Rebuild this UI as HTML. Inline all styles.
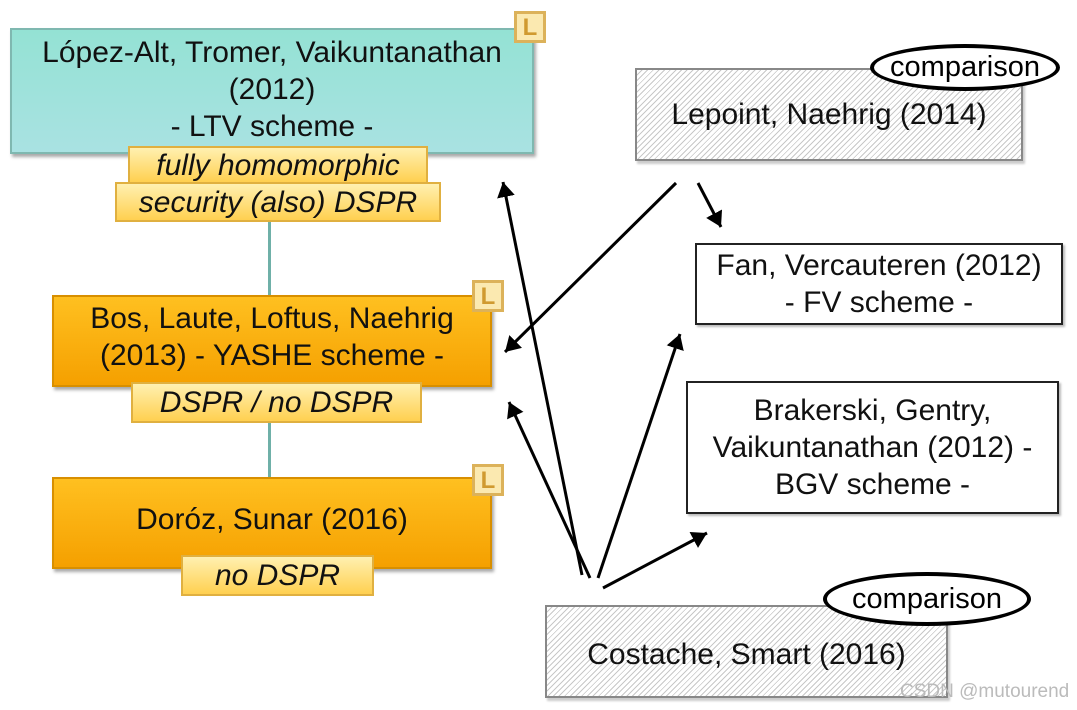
<!DOCTYPE html>
<html><head><meta charset="utf-8"><style>
body{margin:0;width:1077px;height:710px;background:#fff;position:relative;overflow:hidden;font-family:"Liberation Sans",sans-serif;}
.b{position:absolute;box-sizing:border-box;display:flex;align-items:center;justify-content:center;text-align:center;font-size:30px;line-height:37px;color:#111;white-space:nowrap;}
.teal{background:linear-gradient(#94e2d4,#a9e2e2);border:2px solid #7fb8b0;box-shadow:2px 3px 3px #aaa;}
.org{background:linear-gradient(#ffc020,#f5a000);border:2px solid #d88f00;box-shadow:2px 3px 3px #aaa;}
.lab{background:linear-gradient(#fff0b0,#ffd050);border:2px solid #e0b040;font-style:italic;}
.hat{background:repeating-linear-gradient(135deg,#fff 0 3px,#c8c8c8 3px 4px);border:2px solid #888;box-shadow:2px 3px 2px #ccc;}
.wht{background:#fff;border:2px solid #222;box-shadow:2px 2px 2px #bbb;}
.L{position:absolute;width:32px;height:32px;box-sizing:border-box;background:#fbe9b0;border:3px solid #dcb25a;color:#d09a30;font-weight:bold;font-size:24px;line-height:27px;text-align:center;}
.ell{position:absolute;box-sizing:border-box;border:4px solid #000;border-radius:50%;background:#fff;font-size:29px;display:flex;align-items:center;justify-content:center;}
</style></head><body>
<div style="position:absolute;left:268px;top:220px;width:3px;height:76px;background:#6fb0a8"></div>
<div style="position:absolute;left:268px;top:420px;width:3px;height:58px;background:#6fb0a8"></div>
<div class="b teal" style="left:10px;top:28px;width:524px;height:126px;align-items:flex-start;padding-top:4px">López-Alt, Tromer, Vaikuntanathan<br>(2012)<br>- LTV scheme -</div>
<div class="L" style="left:514px;top:11px">L</div>
<div class="b lab" style="left:128px;top:146px;width:300px;height:38px">fully homomorphic</div>
<div class="b lab" style="left:115px;top:182px;width:326px;height:40px">security (also) DSPR</div>
<div class="b org" style="left:52px;top:295px;width:440px;height:92px;padding-bottom:8px">Bos, Laute, Loftus, Naehrig<br>(2013) - YASHE scheme -</div>
<div class="L" style="left:472px;top:280px">L</div>
<div class="b lab" style="left:131px;top:382px;width:291px;height:41px">DSPR / no DSPR</div>
<div class="b org" style="left:52px;top:477px;width:440px;height:92px;padding-bottom:8px">Doróz, Sunar (2016)</div>
<div class="L" style="left:472px;top:464px">L</div>
<div class="b lab" style="left:181px;top:555px;width:193px;height:41px">no DSPR</div>
<div class="b hat" style="left:635px;top:68px;width:388px;height:93px">Lepoint, Naehrig (2014)</div>
<div class="ell" style="left:870px;top:44px;width:190px;height:47px">comparison</div>
<div class="b wht" style="left:695px;top:243px;width:368px;height:82px">Fan, Vercauteren (2012)<br>- FV scheme -</div>
<div class="b wht" style="left:686px;top:381px;width:373px;height:133px">Brakerski, Gentry,<br>Vaikuntanathan (2012) -<br>BGV scheme -</div>
<div class="b hat" style="left:545px;top:605px;width:403px;height:93px;padding-top:6px">Costache, Smart (2016)</div>
<div class="ell" style="left:823px;top:572px;width:208px;height:54px">comparison</div>
<div style="position:absolute;left:900px;top:681px;font-size:19px;color:#bbb">CSDN @mutourend</div>
<svg width="1077" height="710" style="position:absolute;left:0;top:0">
<defs><marker id="a" markerWidth="6" markerHeight="6" refX="5" refY="3" orient="auto" markerUnits="strokeWidth"><path d="M0,0 L5,3 L0,6 z" fill="#000"/></marker></defs>
<g stroke="#000" stroke-width="3" fill="none" marker-end="url(#a)">
<line x1="582" y1="575" x2="503" y2="182"/>
<line x1="676" y1="183" x2="505" y2="352"/>
<line x1="698" y1="183" x2="721" y2="227"/>
<line x1="590" y1="578" x2="509" y2="402"/>
<line x1="598" y1="578" x2="680" y2="334"/>
<line x1="603" y1="588" x2="707" y2="533"/>
</g></svg>
</body></html>
